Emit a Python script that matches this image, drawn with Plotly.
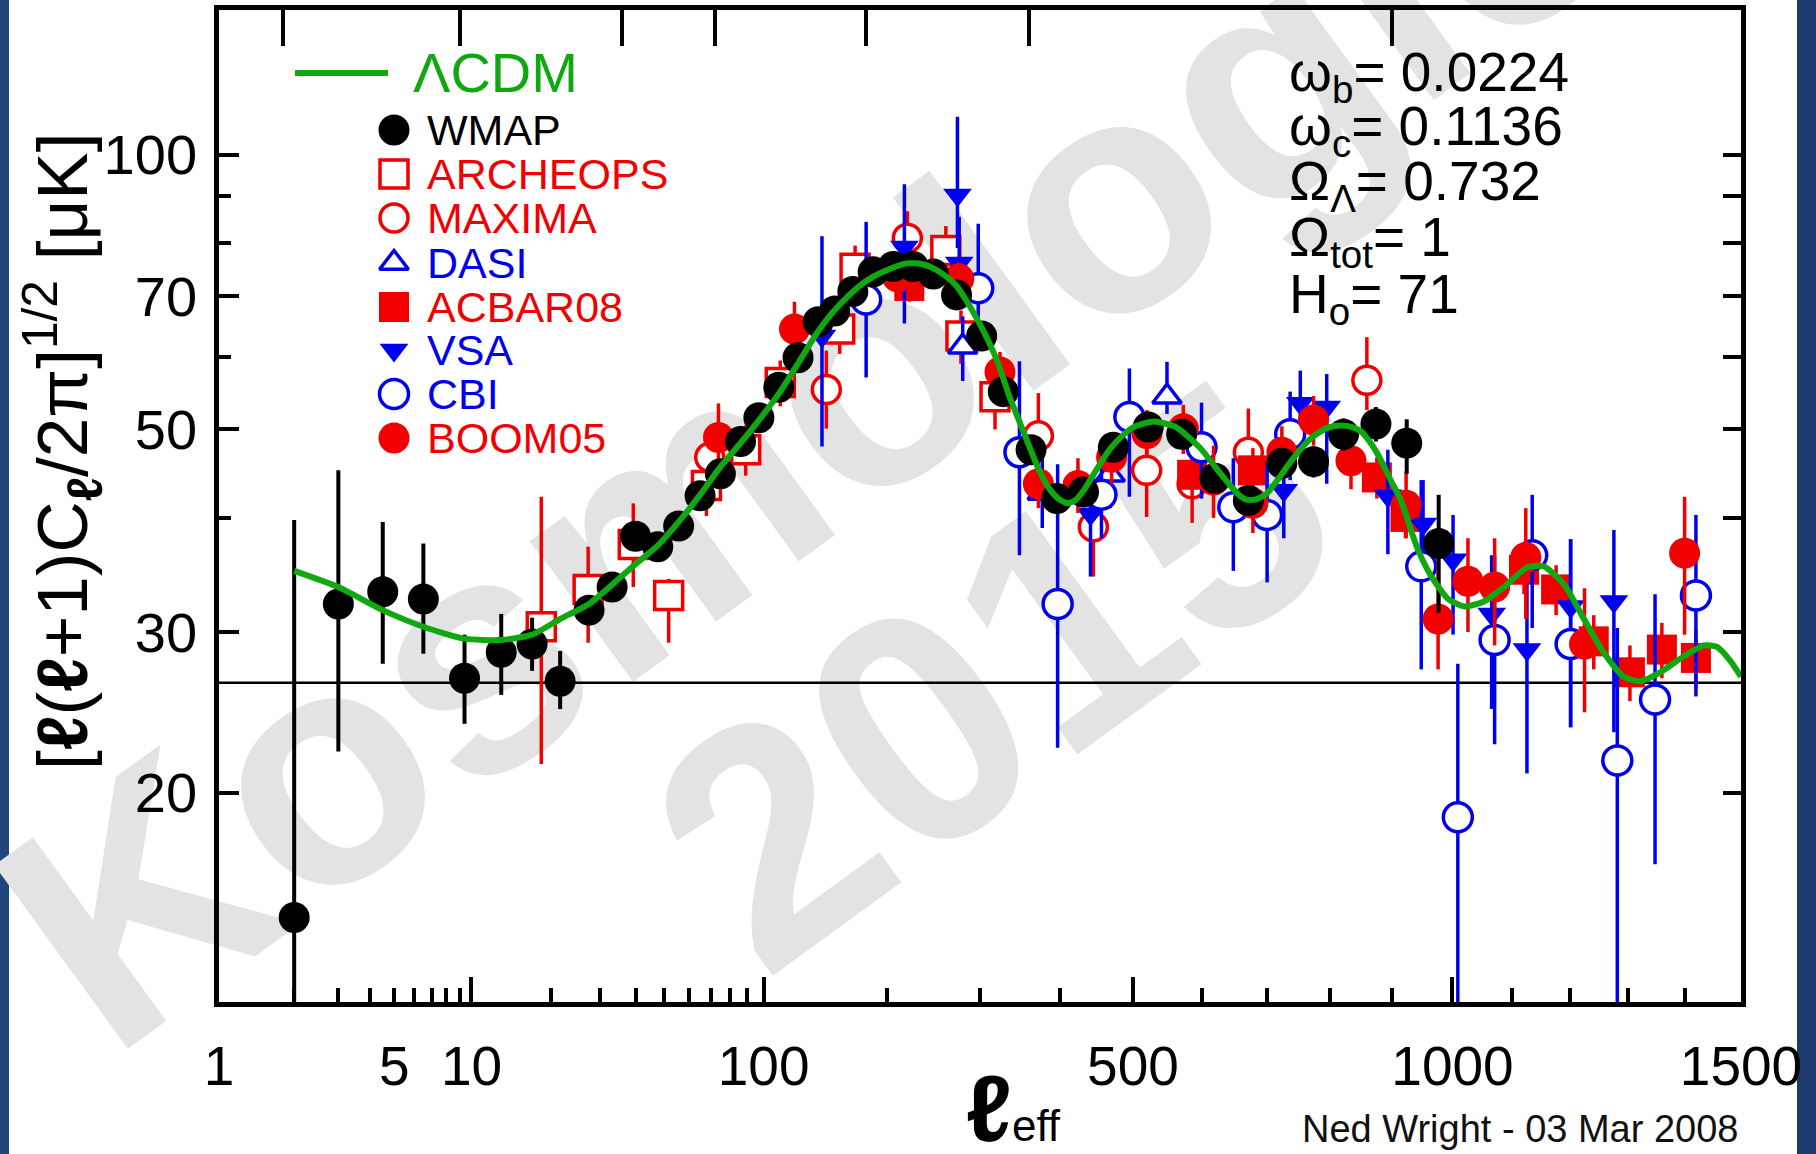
import numpy as np
import plotly.graph_objects as go

# ---------------- data ----------------
lcdm_l = [2, 3, 4.5, 6.5, 9.4, 13, 17, 21.6, 27.5, 33.2, 40, 47.5, 55.6, 65, 75, 86, 96, 111, 125,
          137.5, 150, 165, 180, 196, 219, 235, 247, 260, 273, 285, 296, 310, 322, 335, 346, 358,
          372, 385, 398, 410, 420, 432, 450, 467, 485, 501, 530, 562, 597, 632, 655, 668, 682, 699,
          718, 735, 755, 772, 795, 815, 835, 850, 866, 880, 899, 911, 922, 932, 945, 965, 993, 1020,
          1053, 1087, 1126, 1155, 1190, 1224, 1258, 1293, 1322, 1357, 1398, 1433, 1457, 1481, 1500]
lcdm_v = [35.0, 33.6, 31.7, 30.4, 29.5, 29.4, 29.8, 31.0, 32.2, 33.8, 35.6, 37.3, 39.6, 42.4, 45.5,
          48.3, 50.9, 55.0, 59.5, 63.6, 67.0, 70.2, 72.7, 74.4, 76.0, 75.9, 75.1, 73.7, 71.8, 69.0,
          66.2, 62.5, 59.0, 54.5, 51.5, 48.5, 45.3, 43.2, 42.0, 41.5, 41.8, 42.9, 45.3, 47.5, 49.2,
          50.3, 51.0, 50.3, 47.8, 44.4, 42.5, 41.9, 41.9, 42.5, 44.2, 45.9, 47.8, 49.1, 50.2, 50.5,
          50.3, 49.7, 48.2, 46.5, 43.8, 42.3, 40.5, 38.6, 36.6, 34.5, 32.6, 32.0, 32.4, 33.6, 35.3,
          35.4, 33.8, 31.0, 28.5, 26.8, 26.5, 27.1, 28.2, 29.0, 28.9, 27.9, 26.8]

wmap_l = [2, 3, 4.5, 6.5, 9.4, 13, 17, 21.6, 27.5, 33.2, 40, 47.5, 55.6, 65, 75, 86, 97, 110, 123.6,
          139, 152.4, 168, 186.5, 205.8, 226, 247.3, 273, 302, 328, 362.6, 396, 431.5, 472.5, 521.9,
          570.5, 620.3, 671, 723, 773, 821, 873.5, 924, 977]
wmap_v = [14.6, 32.2, 33.2, 32.6, 26.7, 28.5, 29.1, 26.5, 31.7, 33.6, 38.2, 37.2, 39.2, 42.3, 44.7,
          48.5, 51.5, 55.6, 59.9, 65.6, 67.4, 70.8, 74.4, 75.4, 75.4, 74.0, 70.2, 63.3, 55.0, 47.5,
          42.0, 42.7, 47.8, 50.3, 49.4, 44.2, 41.8, 45.9, 46.1, 49.4, 50.7, 48.3, 37.5]
wmap_lo = [5.0, 22.2, 27.7, 28.4, 23.8, 25.6, 27.2, 24.7, 30.6, 32.6, 37.2, 36.2, 38.3, 41.4, 43.8,
           47.6, 50.6, 54.7, 59.0, 64.6, 66.4, 69.8, 73.4, 74.4, 74.4, 73.0, 69.1, 62.2, 53.9, 46.3,
           40.8, 41.4, 46.5, 49.0, 48.0, 42.8, 40.3, 44.2, 44.3, 47.4, 48.5, 44.7, 31.5]
wmap_hi = [39.8, 45.1, 39.6, 37.5, 29.8, 31.4, 31.1, 28.6, 32.8, 34.6, 39.2, 38.2, 40.1, 43.2, 45.6,
           49.4, 52.4, 56.5, 60.8, 66.6, 68.4, 71.8, 75.4, 76.4, 76.4, 75.0, 71.3, 64.4, 56.1, 48.7,
           43.2, 44.0, 49.1, 51.6, 50.8, 45.6, 43.3, 47.6, 47.9, 51.4, 52.9, 51.3, 42.4]

arch_l = [18.4, 27.3, 39.3, 51.6, 68, 89, 111, 156.6, 170, 261, 278, 318]
arch_v = [30.4, 33.4, 37.4, 32.9, 43.4, 47.5, 56.3, 64.4, 75.1, 78.5, 63.3, 54.3]
arch_lo = [21.5, 29.2, 33.6, 29.2, 40.2, 44.5, 53.0, 60.5, 70.5, 73.5, 59.0, 50.0]
arch_hi = [42.2, 37.2, 41.5, 34.3, 44.9, 50.5, 59.5, 68.5, 79.5, 83.5, 67.5, 59.0]

max_l = [69.6, 145.5, 220, 372, 444.9, 519.6, 586, 671, 858.7]
max_v = [46.6, 55.3, 81.0, 49.2, 39.1, 45.1, 43.6, 47.2, 56.6]
max_lo = [43.5, 50.1, 75.0, 44.0, 34.5, 40.1, 39.5, 44.7, 52.5]
max_hi = [50.0, 61.0, 86.7, 54.8, 44.7, 48.2, 47.5, 52.7, 63.1]

dasi_l = [280, 377, 468, 549]
dasi_v = [61.6, 42.6, 44.6, 54.3]
dasi_lo = [56.5, 39.0, 41.0, 52.0]
dasi_hi = [66.5, 46.5, 48.5, 59.3]

acbar_l = [222, 586, 678, 875, 922, 1121, 1176, 1241, 1304, 1360, 1420]
acbar_v = [71.8, 44.6, 45.1, 44.3, 40.1, 35.1, 33.4, 29.3, 27.1, 28.7, 28.1]
acbar_lo = [69.0, 42.0, 42.5, 42.0, 38.0, 33.0, 31.3, 27.3, 25.2, 26.7, 26.0]
acbar_hi = [74.6, 47.2, 47.7, 46.6, 42.2, 37.2, 35.5, 31.3, 29.0, 30.7, 30.2]

vsa_l = [142, 217, 274, 276, 441, 726, 752, 794, 893, 951, 1001, 1066, 1126, 1201, 1276]
vsa_v = [63.3, 79.2, 90.3, 76.1, 40.4, 42.9, 53.4, 52.9, 42.3, 39.4, 36.0, 31.4, 28.7, 32.0, 32.4]
vsa_lo = [47.9, 65.3, 79.0, 69.2, 34.5, 38.0, 47.0, 43.6, 36.5, 35.5, 29.8, 24.7, 21.0, 23.6, 23.3]
vsa_hi = [81.4, 92.8, 110.0, 85.5, 44.4, 48.0, 58.0, 57.5, 47.5, 44.0, 40.3, 36.4, 34.0, 37.9, 38.8]

cbi_l = [180, 298, 348, 397, 456, 495, 600, 648, 700, 736, 948, 1009, 1071, 1135, 1201, 1282, 1348, 1420]
cbi_v = [69.4, 71.4, 47.2, 32.2, 42.4, 51.6, 47.8, 41.1, 40.3, 49.4, 35.4, 18.8, 29.4, 36.4, 29.1, 21.7, 25.3, 32.9]
cbi_lo = [57.0, 61.4, 36.4, 22.4, 38.0, 42.2, 42.0, 35.0, 34.0, 44.0, 27.3, 8.0, 22.6, 30.3, 23.6, 8.0, 16.7, 25.5]
cbi_hi = [84.4, 84.0, 59.4, 45.8, 47.0, 58.3, 53.5, 46.5, 46.0, 55.0, 44.0, 27.7, 36.4, 42.4, 37.9, 30.3, 33.0, 40.3]

boom_l = [74, 121, 210, 275.5, 324, 372, 424, 470, 520, 573, 618, 678, 723, 773, 833, 923, 976,
          1026, 1071, 1124, 1225, 1400]
boom_v = [49.0, 64.4, 73.5, 73.1, 57.8, 43.6, 43.4, 46.6, 49.5, 50.1, 44.0, 41.5, 47.2, 51.2, 46.2,
          41.3, 31.0, 34.1, 33.6, 36.2, 29.1, 36.6]
boom_lo = [45.0, 60.0, 70.0, 70.0, 55.0, 41.0, 40.5, 43.6, 46.5, 47.0, 40.0, 38.5, 44.0, 48.0, 43.0,
           38.0, 27.3, 30.0, 29.0, 31.0, 24.5, 29.8]
boom_hi = [53.4, 69.0, 77.0, 76.2, 60.8, 46.5, 46.5, 49.6, 52.5, 53.2, 48.0, 44.5, 50.4, 54.4, 49.4,
           45.0, 37.8, 38.0, 38.0, 41.0, 33.5, 42.2]

hline_v = 26.4
x_label_vals = [1, 5, 10, 100, 500, 1000, 1500]
x_label_text = ['1', '5', '10', '100', '500', '1000', '1500']
x_long_vals = [10, 100, 500, 1000]
x_minor_vals = [2, 3, 4, 6, 7, 8, 9, 20, 30, 40, 50, 60, 70, 80, 90, 200, 300, 400, 600, 700, 800,
                900, 1100, 1200, 1300, 1400]
x_top_vals = [1.8, 9, 36, 72, 180, 360, 900]
y_label_vals = [20, 30, 50, 70, 100]
y_label_text = ['20', '30', '50', '70', '100']
y_minor_vals = [40, 60, 80, 90]
y_right_vals = [20, 30, 40, 50, 60, 70, 80, 90, 100]
y_range = [11.8, 144]

legend_names = ['WMAP', 'ARCHEOPS', 'MAXIMA', 'DASI', 'ACBAR08', 'VSA', 'CBI', 'BOOM05']
param_lines = ['ω<sub>b</sub>= 0.0224', 'ω<sub>c</sub>= 0.1136', 'Ω<sub>Λ</sub>= 0.732',
               'Ω<sub>tot</sub>= 1', 'H<sub>o</sub>= 71']
credit = 'Ned Wright - 03 Mar 2008'
watermark = ['Kosmologie', '2015']

# ---------------- styling / geometry ----------------
W, H = 1816, 1154
PL, PR, PT, PB = 219, 1741, 10, 1002
FONT = 'Liberation Sans, Arial, Helvetica, sans-serif'
RED, BLUE, BLACK, GREEN = '#f20000', '#0000f0', '#000000', '#10a810'
L0 = 220.0  # horizontal axis: ln(l) + l/L0


def lx(l):
    a = np.asarray(l, dtype=float)
    return np.log(a) + a / L0


def pxx(px):
    return (px - PL) / (PR - PL)


def pxy(py):
    return (PB - py) / (PB - PT)


XR = [float(lx(1)) - 1e-9, float(lx(1500)) + 1e-9]
YR = [np.log10(y_range[0]), np.log10(y_range[1])]

fig = go.Figure()

# horizontal reference line
fig.add_trace(go.Scatter(x=lx([1, 1500]), y=[hline_v, hline_v], mode='lines',
                         line=dict(color=BLACK, width=2.5), hoverinfo='skip', showlegend=False))


def add_set(l, v, lo, hi, symbol, color, fill, size, lw, thick=3.5):
    v = np.asarray(v, float)
    fig.add_trace(go.Scatter(
        x=lx(l), y=v, mode='markers',
        marker=dict(symbol=symbol, size=size, color=fill, line=dict(color=color, width=lw)),
        error_y=dict(type='data', symmetric=False, array=np.asarray(hi) - v,
                     arrayminus=v - np.asarray(lo), color=color, thickness=thick, width=0),
        hoverinfo='skip', showlegend=False))


add_set(arch_l, arch_v, arch_lo, arch_hi, 'square', RED, 'white', 28, 3.5)
add_set(max_l, max_v, max_lo, max_hi, 'circle', RED, 'white', 28, 3.5)
add_set(dasi_l, dasi_v, dasi_lo, dasi_hi, 'triangle-up', BLUE, 'white', 25, 3.5)
add_set(acbar_l, acbar_v, acbar_lo, acbar_hi, 'square', RED, RED, 30, 0)
add_set(vsa_l, vsa_v, vsa_lo, vsa_hi, 'triangle-down', BLUE, BLUE, 25, 0)
add_set(cbi_l, cbi_v, cbi_lo, cbi_hi, 'circle', BLUE, 'white', 29, 3.5)
add_set(boom_l, boom_v, boom_lo, boom_hi, 'circle', RED, RED, 31, 0)
add_set(wmap_l, wmap_v, wmap_lo, wmap_hi, 'circle', BLACK, BLACK, 31, 0, thick=4)

fig.add_trace(go.Scatter(x=lx(lcdm_l), y=lcdm_v, mode='lines',
                         line=dict(color=GREEN, width=6, shape='spline', smoothing=0.6),
                         hoverinfo='skip', showlegend=False))

# dummy traces to instantiate overlay axes
fig.add_trace(go.Scatter(x=[None], y=[None], xaxis='x2', yaxis='y', showlegend=False))
fig.add_trace(go.Scatter(x=[None], y=[None], xaxis='x4', yaxis='y', showlegend=False))
fig.add_trace(go.Scatter(x=[None], y=[None], xaxis='x', yaxis='y2', showlegend=False))

# ---------------- hand-made legend (overlay axes x3/y3 in [0,1]) ----------------
leg_x_marker, leg_x_text = 394, 425
leg_rows = [130, 174, 218, 263, 307, 350, 394, 438]
leg_style = [('circle', BLACK, BLACK, 31, 0), ('square', RED, 'white', 28, 3.5),
             ('circle', RED, 'white', 28, 3.5), ('triangle-up', BLUE, 'white', 25, 3.5),
             ('square', RED, RED, 30, 0), ('triangle-down', BLUE, BLUE, 25, 0),
             ('circle', BLUE, 'white', 29, 3.5), ('circle', RED, RED, 31, 0)]
leg_text_col = [BLACK, RED, RED, BLUE, RED, BLUE, BLUE, RED]

fig.add_trace(go.Scatter(x=[pxx(295), pxx(388)], y=[pxy(73), pxy(73)], mode='lines',
                         line=dict(color=GREEN, width=6), xaxis='x3', yaxis='y3',
                         hoverinfo='skip', showlegend=False))
for row, (sym, col, fill, size, lw) in zip(leg_rows, leg_style):
    fig.add_trace(go.Scatter(x=[pxx(leg_x_marker)], y=[pxy(row)], mode='markers',
                             marker=dict(symbol=sym, size=size, color=fill,
                                         line=dict(color=col, width=lw)),
                             xaxis='x3', yaxis='y3', hoverinfo='skip', showlegend=False,
                             cliponaxis=False))

annotations = []
annotations.append(dict(text='ΛCDM', x=pxx(411), y=pxy(73), xref='paper', yref='paper',
                        xanchor='left', yanchor='middle', showarrow=False,
                        font=dict(family=FONT, size=56, color=GREEN)))
for row, name, col in zip(leg_rows, legend_names, leg_text_col):
    annotations.append(dict(text=name, x=pxx(leg_x_text), y=pxy(row), xref='paper', yref='paper',
                            xanchor='left', yanchor='middle', showarrow=False,
                            font=dict(family=FONT, size=43, color=col)))

param_rows = [76, 130, 185, 241, 298]
for row, txt in zip(param_rows, param_lines):
    annotations.append(dict(text=txt, x=pxx(1287), y=pxy(row), xref='paper', yref='paper',
                            xanchor='left', yanchor='middle', showarrow=False,
                            font=dict(family=FONT, size=55, color=BLACK)))

annotations.append(dict(text="<b>ℓ</b><span style='font-size:44px'>eff</span>",
                        x=pxx(1013), y=pxy(1108), xref='paper', yref='paper',
                        xanchor='center', yanchor='middle', showarrow=False,
                        font=dict(family=FONT, size=94, color=BLACK)))
annotations.append(dict(text='[<b>ℓ</b>(<b>ℓ</b>+1)C<sub><b>ℓ</b></sub>/2π]<sup>1/2</sup> [μK]',
                        x=pxx(62), y=pxy(452), xref='paper', yref='paper', textangle=-90,
                        xanchor='center', yanchor='middle', showarrow=False,
                        font=dict(family=FONT, size=71, color=BLACK)))
annotations.append(dict(text=credit, x=pxx(1741), y=pxy(1129), xref='paper', yref='paper',
                        xanchor='right', yanchor='middle', showarrow=False,
                        font=dict(family='Liberation Sans Narrow, ' + FONT, size=38, color='#111111')))

# ---------------- shapes: side strips + watermark ----------------
shapes = [
    dict(type='rect', xref='paper', yref='paper', x0=pxx(0), x1=pxx(9), y0=pxy(H), y1=pxy(0),
         fillcolor='#21467c', line=dict(width=0), layer='below'),
    dict(type='rect', xref='paper', yref='paper', x0=pxx(1797), x1=pxx(W), y0=pxy(H), y1=pxy(0),
         fillcolor='#1b3a6e', line=dict(width=0), layer='below'),
]
for txt, (cx, cy), ang in zip(watermark, [(789, 390), (975, 649)], [-36, -36]):
    shapes.append(dict(type='rect', xref='paper', yref='paper',
                       x0=pxx(cx - 5), x1=pxx(cx + 5), y0=pxy(cy + 5), y1=pxy(cy - 5),
                       line=dict(width=0), fillcolor='rgba(0,0,0,0)', layer='below',
                       label=dict(text=txt, textangle=ang, textposition='middle center',
                                  font=dict(family=FONT, size=330, color='#e3e3e3', weight=700))))

axis_common = dict(showgrid=False, zeroline=False, linecolor=BLACK, linewidth=4.5,
                   tickcolor=BLACK, tickwidth=4)
axis_noline = {k: v for k, v in axis_common.items() if k != 'linewidth'}

fig.update_layout(
    width=W, height=H, template='none',
    paper_bgcolor='white', plot_bgcolor='rgba(0,0,0,0)',
    margin=dict(l=PL, r=W - PR, t=PT, b=H - PB, pad=0),
    showlegend=False,
    xaxis=dict(range=XR, showline=True, ticks='inside', ticklen=14,
               tickvals=list(lx(x_label_vals)), ticktext=x_label_text,
               tickfont=dict(family=FONT, size=55, color=BLACK), ticklabelstandoff=12,
               minor=dict(tickvals=list(lx(x_minor_vals)), ticks='inside', ticklen=14,
                          tickwidth=3.5, tickcolor=BLACK, showgrid=False),
               **axis_common),
    xaxis4=dict(range=XR, overlaying='x', anchor='y', side='bottom', showline=False,
                ticks='inside', ticklen=25, tickvals=list(lx(x_long_vals)),
                showticklabels=False, **axis_noline),
    xaxis2=dict(range=XR, overlaying='x', anchor='y', side='top', showline=True,
                ticks='inside', ticklen=36, tickvals=list(lx(x_top_vals)),
                showticklabels=False, **axis_common),
    xaxis3=dict(range=[0, 1], overlaying='x', anchor='y3', visible=False, fixedrange=True),
    yaxis=dict(type='log', range=YR, showline=True, ticks='inside', ticklen=20,
               tickvals=y_label_vals, ticktext=y_label_text,
               tickfont=dict(family=FONT, size=56, color=BLACK), ticklabelstandoff=6,
               minor=dict(tickvals=y_minor_vals, ticks='inside', ticklen=12, tickwidth=3.5,
                          tickcolor=BLACK, showgrid=False),
               **axis_common),
    yaxis2=dict(type='log', range=YR, overlaying='y', anchor='x', side='right', showline=True,
                ticks='inside', ticklen=18, tickvals=y_right_vals,
                showticklabels=False, **axis_common),
    yaxis3=dict(range=[0, 1], overlaying='y', anchor='x3', visible=False, fixedrange=True),
    annotations=annotations,
    shapes=shapes,
)

fig.write_html('out.html', config={'displayModeBar': False})
